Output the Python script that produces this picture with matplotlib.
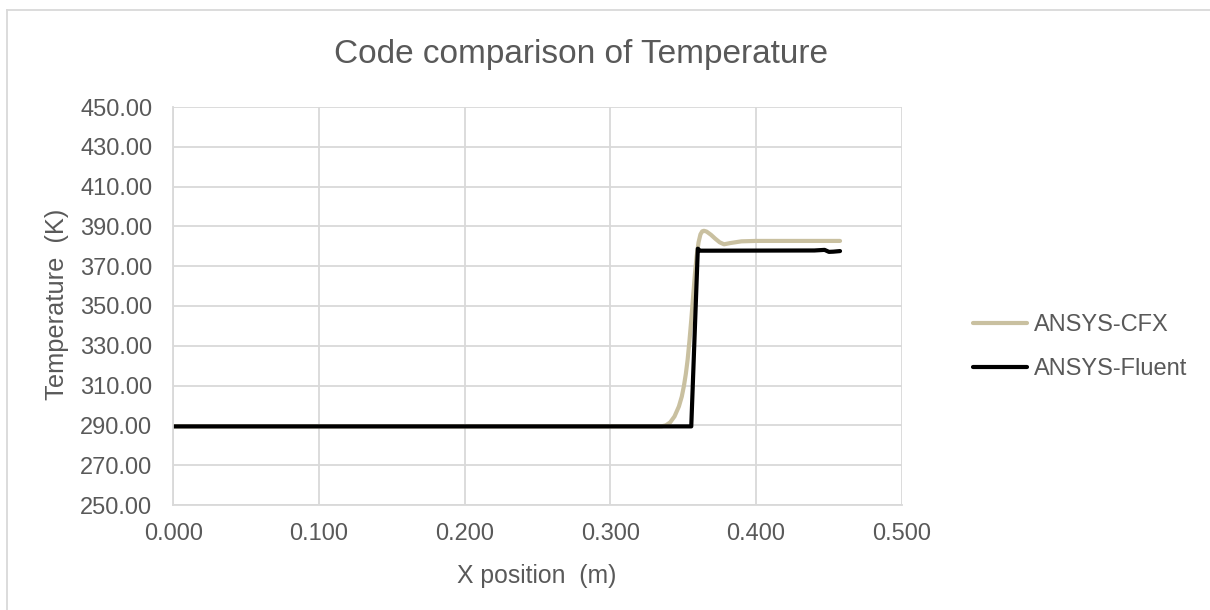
import matplotlib
matplotlib.use("Agg")
import matplotlib.pyplot as plt
from matplotlib.lines import Line2D

plt.rcParams['font.family'] = ['Liberation Sans', 'DejaVu Sans']

title = "Code comparison of Temperature"
x_label = "X position  (m)"
y_label = "Temperature  (K)"

cfx_x = [0.000, 0.335, 0.338, 0.341, 0.344, 0.347, 0.349, 0.3505, 0.3518, 0.3530,
         0.3542, 0.3555, 0.3568, 0.3580, 0.3592, 0.3605, 0.3618, 0.3630, 0.3642,
         0.3660, 0.3690, 0.3720, 0.3750, 0.3780, 0.3820, 0.3900, 0.4000, 0.4576]
cfx_t = [289.5, 289.5, 290.0, 291.5, 294.5, 299.5, 304.5, 310.0, 316.0, 323.0,
         332.0, 343.0, 355.0, 366.0, 375.0, 382.0, 386.0, 387.5, 387.8,
         387.4, 385.8, 383.8, 382.0, 381.0, 381.6, 382.5, 382.7, 382.7]

fluent_x = [0.000, 0.3555, 0.3600, 0.3615, 0.3700, 0.4400, 0.4470, 0.4500,
            0.4530, 0.4576]
fluent_t = [289.5, 289.5, 378.8, 377.8, 377.8, 377.9, 378.2, 377.2,
            377.3, 377.6]

x_ticks = [0.0, 0.1, 0.2, 0.3, 0.4, 0.5]
y_ticks = [250, 270, 290, 310, 330, 350, 370, 390, 410, 430, 450]

txt = '#595959'
grid = '#D9D9D9'

fig = plt.figure(figsize=(12.1, 6.1), dpi=100)
ax = fig.add_axes([173.3 / 1210, 1 - 505 / 610, (901.8 - 173.3) / 1210, (505 - 107) / 610])

ax.plot(cfx_x, cfx_t, color='#C9C0A0', lw=3.0, label='ANSYS-CFX', solid_capstyle='round')
ax.plot(fluent_x, fluent_t, color='#000000', lw=3.0, label='ANSYS-Fluent', solid_capstyle='round')

ax.set_xlim(0, 0.5)
ax.set_ylim(250, 450)
ax.set_xticks(x_ticks)
ax.set_yticks(y_ticks)
ax.set_xticklabels([f"{v:.3f}" for v in x_ticks])
ax.set_yticklabels([f"{v:.2f}" for v in y_ticks])
ax.tick_params(axis='both', length=0, labelsize=17, colors=txt)
ax.tick_params(axis='x', pad=13)
ax.tick_params(axis='y', pad=15)
ax.grid(True, color=grid, lw=1.3)
ax.set_axisbelow(True)
for s in ['top', 'right']:
    ax.spines[s].set_visible(False)
for s in ['left', 'bottom']:
    ax.spines[s].set_color(grid)
    ax.spines[s].set_linewidth(1.3)

fig.text(581.5 / 1210, 1 - 55 / 610, title, ha='center', va='center', fontsize=24, color=txt)
fig.text(537 / 1210, 1 - 576 / 610, x_label, ha='center', va='center', fontsize=17.8, color=txt)
fig.text(57 / 1210, 1 - 304.5 / 610, y_label, ha='center', va='center', fontsize=18.3,
         color=txt, rotation=90)

leg = ax.legend(loc='center left', bbox_to_anchor=(973 / 1210, 1 - 347 / 610),
                bbox_transform=fig.transFigure, frameon=False, fontsize=17,
                handlelength=2.3, handletextpad=0.3, labelspacing=0.95,
                borderaxespad=0, borderpad=0)
for t in leg.get_texts():
    t.set_color(txt)

# outer chart border
fig.add_artist(Line2D([7 / 1210, 1.0], [1 - 10 / 610, 1 - 10 / 610], color=grid, lw=1.3,
                      transform=fig.transFigure))
fig.add_artist(Line2D([7 / 1210, 7 / 1210], [0.0, 1 - 10 / 610], color=grid, lw=1.3,
                      transform=fig.transFigure))

fig.savefig('out.png', dpi=100, facecolor='white')
